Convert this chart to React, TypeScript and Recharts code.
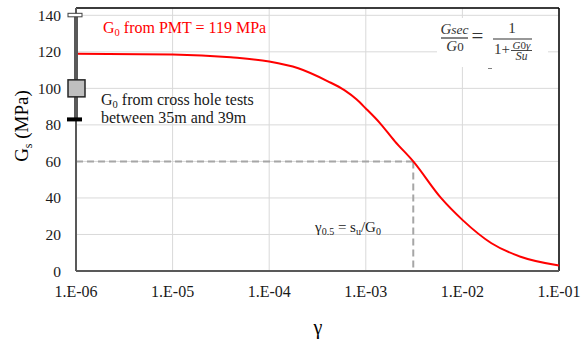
import {
  CartesianGrid,
  ComposedChart,
  Line,
  ReferenceLine,
  Scatter,
  XAxis,
  YAxis,
} from 'recharts';

// shear strain (gamma) vs secant modulus Gs (MPa)
const gammaValues = [1e-6, 1e-5, 4e-5, 1e-4, 2e-4, 4e-4, 6e-4, 8e-4, 1e-3, 1.4e-3, 2e-3, 3.1e-3, 6e-3, 1e-2, 2e-2, 4e-2, 1e-1];
const gsValues = [119, 118.6, 117, 114.7, 111, 104, 99, 94, 89, 81, 71, 60, 40, 28, 15.2, 7.8, 3];

const xTicks = [1e-6, 1e-5, 1e-4, 1e-3, 1e-2, 1e-1];
const xTickLabels = ['1.E-06', '1.E-05', '1.E-04', '1.E-03', '1.E-02', '1.E-01'];
const yTicks = [0, 20, 40, 60, 80, 100, 120, 140];

// cross hole G0 range
const crossholeGamma = 1e-6;
const crossholeMid = 100;
const crossholeHigh = 140;
const crossholeLow = 83;

// gamma 0.5 marker
const gamma05 = 3.1e-3;
const g05 = 60;

const curve = gammaValues.map((gamma, i) => ({ gamma, g: gsValues[i] }));
const boxData = [{ gamma: crossholeGamma, g: crossholeMid }];
const capData = [
  { gamma: crossholeGamma, g: crossholeHigh, kind: 'top' },
  { gamma: crossholeGamma, g: crossholeLow, kind: 'bottom' },
];

const serif = '"Liberation Serif", "Times New Roman", serif';

const XTick = (props: any) => {
  const { x, y, payload } = props;
  const i = xTicks.findIndex((t) => Math.abs(t - payload.value) / t < 1e-6);
  return (
    <text x={x} y={y + 26} textAnchor="middle" fontSize={16} fill="#1a1a1a" style={{ fontFamily: serif }}>
      {xTickLabels[i] ?? ''}
    </text>
  );
};

const YTick = (props: any) => {
  const { x, y, payload } = props;
  return (
    <text x={x} y={y + 5.5} textAnchor="end" fontSize={15.5} fill="#1a1a1a" style={{ fontFamily: serif }}>
      {payload.value}
    </text>
  );
};

const BoxShape = (props: any) => {
  const { cx, cy } = props;
  return <rect x={cx - 8} y={cy - 8.5} width={17} height={17} fill="#bfbfbf" stroke="#262626" strokeWidth={1.5} />;
};

const CapShape = (props: any) => {
  const { cx, cy, payload } = props;
  if (payload.kind === 'top') {
    return <rect x={cx - 8} y={cy - 2} width={14} height={3.5} fill="#fff" stroke="#404040" strokeWidth={1} />;
  }
  return <rect x={cx - 9} y={cy - 2} width={15} height={4} fill="#000" />;
};

const Overlay = () => (
  <svg width={585} height={340} style={{ position: 'absolute', left: 0, top: 0, pointerEvents: 'none', fontFamily: serif }}>
    <text transform="translate(28,126) rotate(-90)" textAnchor="middle" fontSize={19} fill="#000">
      G<tspan fontSize={12} dy={4}>s</tspan>
      <tspan dy={-4}> (MPa)</tspan>
    </text>
    <text x={318} y={334} textAnchor="middle" fontSize={20} fill="#000">γ</text>

    <text x={103} y={33} fontSize={16} fill="#ff0000">
      G<tspan fontSize={10.5} dy={3}>0</tspan>
      <tspan dy={-3}> from PMT = 119 MPa</tspan>
    </text>
    <text x={101} y={105} fontSize={16} fill="#1a1a1a">
      G<tspan fontSize={10.5} dy={3}>0</tspan>
      <tspan dy={-3}> from cross hole tests</tspan>
    </text>
    <text x={101} y={123} fontSize={16} fill="#1a1a1a">between 35m and 39m</text>

    <text x={315} y={232} fontSize={15} fill="#1a1a1a">
      γ<tspan fontSize={10} dy={3}>0.5</tspan>
      <tspan dy={-3}> =  s</tspan>
      <tspan fontSize={10} dy={3}>u</tspan>
      <tspan dy={-3}>/G</tspan>
      <tspan fontSize={10} dy={3}>0</tspan>
    </text>

    {/* formula */}
    <rect x={437} y={18} width={111} height={49} fill="#fff" />
    <g fill="#333" fontStyle="italic">
      <text x={454.5} y={34} textAnchor="middle" fontSize={15}>G<tspan fontSize={13.5}>sec</tspan></text>
      <line x1={441} x2={468} y1={38} y2={38} stroke="#333" strokeWidth={1.2} />
      <text x={455} y={51} textAnchor="middle" fontSize={15}>G<tspan fontStyle="normal" fontSize={13}>0</tspan></text>
      <text x={477.5} y={43} textAnchor="middle" fontStyle="normal" fontSize={21}>=</text>
      <text x={512} y={33} textAnchor="middle" fontStyle="normal" fontSize={15}>1</text>
      <line x1={493} x2={532} y1={39} y2={39} stroke="#333" strokeWidth={1.2} />
      <text x={494} y={54} fontStyle="normal" fontSize={15}>1+</text>
      <text x={521.5} y={48.5} textAnchor="middle" fontSize={11}>G<tspan fontStyle="normal">0</tspan>γ</text>
      <line x1={511} x2={532} y1={50.5} y2={50.5} stroke="#333" strokeWidth={0.9} />
      <text x={521.5} y={60} textAnchor="middle" fontSize={12.5}>S<tspan fontSize={11.5}>u</tspan></text>
    </g>
    <line x1={488} x2={492} y1={68.5} y2={68.5} stroke="#808080" strokeWidth={1} />
  </svg>
);

const App = () => (
  <div style={{ position: 'relative', width: 585, height: 340, background: '#fff' }}>
    <style>{'body { margin: 0; }'}</style>
    <ComposedChart
      width={585}
      height={340}
      margin={{ top: 8, right: 26, bottom: 0, left: 0 }}
      style={{ fontFamily: serif }}
    >
      <CartesianGrid stroke="#d9d9d9" strokeWidth={1} />
      <XAxis
        dataKey="gamma"
        type="number"
        scale="log"
        domain={[1e-6, 1e-1]}
        ticks={xTicks}
        tick={<XTick />}
        tickLine={false}
        tickSize={0}
        tickMargin={0}
        axisLine={{ stroke: '#595959', strokeWidth: 2 }}
        height={69}
        interval={0}
      />
      <YAxis
        type="number"
        domain={[0, 144]}
        ticks={yTicks}
        tick={<YTick />}
        tickLine={false}
        tickSize={0}
        tickMargin={15}
        axisLine={{ stroke: '#595959', strokeWidth: 2 }}
        width={76}
        interval={0}
      />
      <ReferenceLine y={144} stroke="#000" strokeWidth={1.5} />
      <ReferenceLine x={1e-1} stroke="#000" strokeWidth={1.5} />
      <ReferenceLine
        segment={[{ x: 1e-6, y: g05 }, { x: gamma05, y: g05 }]}
        stroke="#a6a6a6"
        strokeWidth={2}
        strokeDasharray="7 4"
      />
      <ReferenceLine
        segment={[{ x: gamma05, y: g05 }, { x: gamma05, y: 0 }]}
        stroke="#a6a6a6"
        strokeWidth={2}
        strokeDasharray="7 4"
      />
      <Line
        data={curve}
        dataKey="g"
        type="monotone"
        stroke="#ff0000"
        strokeWidth={2}
        dot={false}
        isAnimationActive={false}
      />
      <ReferenceLine
        segment={[{ x: crossholeGamma, y: crossholeLow }, { x: crossholeGamma, y: crossholeHigh }]}
        stroke="#595959"
        strokeWidth={4}
      />
      <ReferenceLine
        segment={[{ x: crossholeGamma, y: crossholeLow }, { x: crossholeGamma, y: crossholeHigh }]}
        stroke="#8c8c8c"
        strokeWidth={2}
      />
      <Scatter data={capData} dataKey="g" shape={CapShape} isAnimationActive={false} />
      <Scatter data={boxData} dataKey="g" shape={BoxShape} isAnimationActive={false} />
    </ComposedChart>
    <Overlay />
  </div>
);

export default App;
